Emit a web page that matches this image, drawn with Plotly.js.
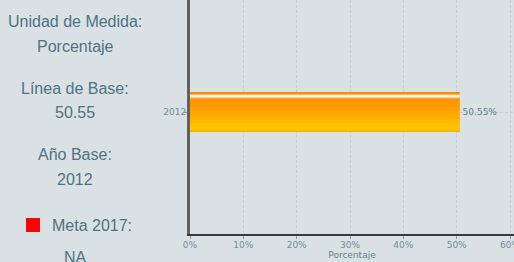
<!DOCTYPE html>
<html>
<head>
<meta charset="utf-8">
<script src="https://cdn.plot.ly/plotly-3.0.1.min.js"></script>
<style>
html,body{margin:0;padding:0;background:#dae1e4;overflow:hidden;}
#chart{width:514px;height:262px;}
</style>
</head>
<body>
<div id="chart"></div>
<script>
// ---- data ----
const categories = ['2012'];
const values = [50.55];
const valueLabels = ['50.55%'];
const infoLabels = ['Unidad de Medida:', 'Porcentaje', 'Línea de Base:', '50.55', 'Año Base:', '2012'];
const metaLabel = 'Meta 2017:';
const metaValue = 'NA';
const xTitle = 'Porcentaje';

// ---- styling / layout constants ----
const W = 514, H = 262;
const M = {l: 190, r: 0, t: 0, b: 28};
const plotW = W - M.l - M.r, plotH = H - M.t - M.b;
const yRange = [-0.521, 0.479];
const pxU = (yRange[1] - yRange[0]) / plotH; // data units per pixel
const barPx = 40;
const half = barPx / 2;
// gradient bands: [from px, to px (from bar top), colour]
const bands = [
  [0, 2, '#ff8c00'], [2, 3, '#ffb060'], [3, 5, '#fff6ea'], [5, 6, '#ffcf9a'], [6, 7, '#ffa030'],
  [7, 11, '#ff9300'], [11, 15, '#ff9800'], [15, 19, '#ff9f00'], [19, 23, '#ffa600'],
  [23, 27, '#ffae00'], [27, 31, '#ffb700'], [31, 35, '#ffc000'], [35, 38, '#ffc600'], [38, 40, '#f7b500']
];

const traces = [];
// base bar carrying the value label
traces.push({
  type: 'bar', orientation: 'h', y: categories, x: values,
  width: barPx * pxU, offset: -half * pxU,
  marker: {color: '#ffa000', line: {width: 0}},
  text: valueLabels, textposition: 'outside', cliponaxis: false,
  textfont: {family: 'DejaVu Sans', size: 9, color: '#5e8391'},
  hoverinfo: 'skip', showlegend: false
});
bands.forEach(b => {
  traces.push({
    type: 'bar', orientation: 'h', y: categories, x: values,
    width: (b[1] - b[0]) * pxU, offset: (half - b[1]) * pxU,
    marker: {color: b[2], line: {width: 0}},
    hoverinfo: 'skip', showlegend: false
  });
});

const txtColor = '#4d7382';
const toPaperX = px => (px - M.l) / plotW;
const toPaperY = py => (H - M.b - py) / plotH;
const infoY = [21, 47, 88, 113, 154, 180];
const annotations = infoLabels.map((t, i) => ({
  text: t, xref: 'paper', yref: 'paper', x: toPaperX(75), y: toPaperY(infoY[i]),
  xanchor: 'center', yanchor: 'middle', showarrow: false,
  font: {family: 'Liberation Sans, Arial', size: 16, color: txtColor}
}));
annotations.push({
  text: metaLabel, xref: 'paper', yref: 'paper', x: toPaperX(92), y: toPaperY(225),
  xanchor: 'center', yanchor: 'middle', showarrow: false,
  font: {family: 'Liberation Sans, Arial', size: 16, color: txtColor}
});
annotations.push({
  text: metaValue, xref: 'paper', yref: 'paper', x: toPaperX(75), y: toPaperY(257),
  xanchor: 'center', yanchor: 'middle', showarrow: false,
  font: {family: 'Liberation Sans, Arial', size: 16, color: txtColor}
});

const layout = {
  width: W, height: H, margin: M,
  paper_bgcolor: '#dae1e4', plot_bgcolor: '#dae1e4',
  barmode: 'overlay', showlegend: false,
  xaxis: {
    range: [0, 60.75], dtick: 10, ticksuffix: '%',
    showgrid: true, gridcolor: '#c6cdd1', gridwidth: 1, griddash: '3px,2px',
    zeroline: false, showline: true, linecolor: '#3a3a3a', linewidth: 2,
    ticks: 'outside', ticklen: 3, tickcolor: '#999',
    ticklabeloverflow: 'allow', ticklabelstandoff: -2,
    tickfont: {family: 'DejaVu Sans', size: 9, color: '#6b8e9b'},
    title: {text: xTitle, standoff: 0, font: {family: 'DejaVu Sans', size: 9, color: '#5e8391'}},
    fixedrange: true
  },
  yaxis: {
    type: 'category', range: yRange,
    showgrid: true, gridcolor: '#c6cdd1', gridwidth: 1, griddash: '3px,2px',
    zeroline: false, showline: true, linecolor: '#616161', linewidth: 3,
    ticks: 'outside', ticklen: 3, tickcolor: '#999',
    ticklabelstandoff: -4,
    tickfont: {family: 'DejaVu Sans', size: 9, color: '#6b8e9b'},
    fixedrange: true
  },
  annotations: annotations,
  shapes: [{
    type: 'rect', xref: 'paper', yref: 'paper',
    x0: toPaperX(26), x1: toPaperX(40), y0: toPaperY(232), y1: toPaperY(218),
    fillcolor: '#ff0000', line: {width: 0}
  }]
};

Plotly.newPlot('chart', traces, layout, {displayModeBar: false, staticPlot: true});
</script>
</body>
</html>
